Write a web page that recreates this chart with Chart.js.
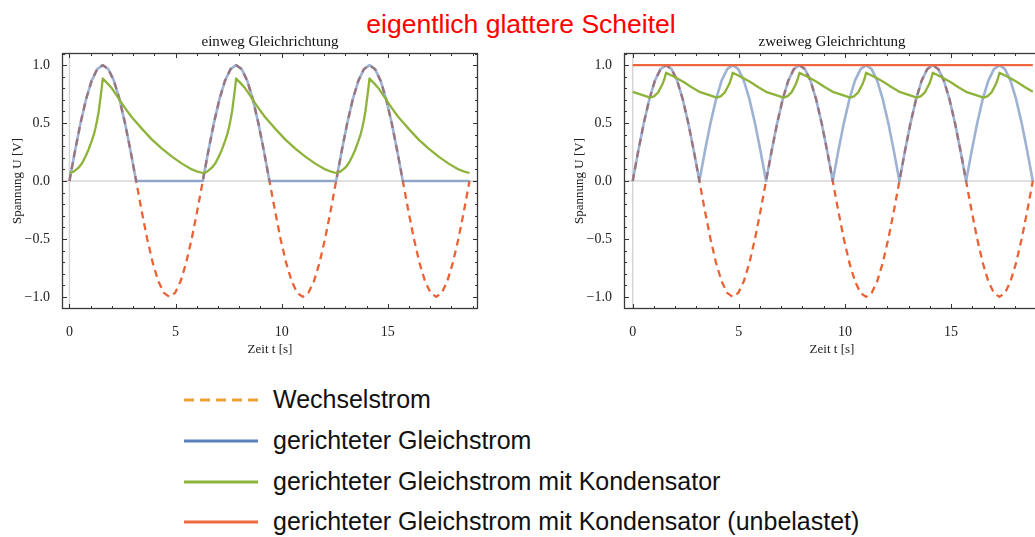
<!DOCTYPE html>
<html><head><meta charset="utf-8">
<script src="https://cdn.jsdelivr.net/npm/chart.js@4/dist/chart.umd.min.js"></script>
<style>
html,body{margin:0;padding:0;width:1035px;height:537px;overflow:hidden;background:#fff;}
#mainTitle{position:absolute;left:0;top:11px;width:1042px;text-align:center;font-family:'Liberation Sans',Arial,sans-serif;font-size:26.5px;line-height:26px;color:#ff0000;white-space:nowrap;}
.box{position:absolute;top:30px;width:490px;height:340px;}
#legend{position:absolute;left:0;top:0;}
.lrow{position:absolute;left:184px;height:41px;}
.lrow svg{position:absolute;left:0;}
.lrow span{position:absolute;left:89px;font-family:'Liberation Sans',Arial,sans-serif;font-size:25px;line-height:25px;color:#111;white-space:nowrap;}
</style></head>
<body>
<div id="mainTitle"></div>
<div class="box" style="left:0px"><canvas id="c1"></canvas></div>
<div class="box" style="left:562px"><canvas id="c2"></canvas></div>
<div id="legend"></div>
<script>
// ---- data ----
const mainTitle = 'eigentlich glattere Scheitel';
const chartTitles = ['einweg Gleichrichtung', 'zweiweg Gleichrichtung'];
const xAxisTitle = 'Zeit t [s]';
const yAxisTitle = 'Spannung U [V]';
const xTickValues = [0, 5, 10, 15];
const xTickLabels = ['0', '5', '10', '15'];
const yTickValues = [-1, -0.5, 0, 0.5, 1];
const yTickLabels = ['\u22121.0', '\u22120.5', '0.0', '0.5', '1.0'];
const legendLabels = ['Wechselstrom', 'gerichteter Gleichstrom', 'gerichteter Gleichstrom mit Kondensator', 'gerichteter Gleichstrom mit Kondensator (unbelastet)'];

const tSine = [0, 0.262, 0.524, 0.785, 1.047, 1.309, 1.571, 1.833, 2.094, 2.356, 2.618, 2.880,
  3.142, 3.403, 3.665, 3.927, 4.189, 4.451, 4.712, 4.974, 5.236, 5.498, 5.760, 6.021,
  6.283, 6.545, 6.807, 7.069, 7.330, 7.592, 7.854, 8.116, 8.378, 8.639, 8.901, 9.163,
  9.425, 9.687, 9.948, 10.210, 10.472, 10.734, 10.996, 11.257, 11.519, 11.781, 12.043, 12.305,
  12.566, 12.828, 13.090, 13.352, 13.614, 13.875, 14.137, 14.399, 14.661, 14.923, 15.184, 15.446,
  15.708, 15.970, 16.232, 16.493, 16.755, 17.017, 17.279, 17.541, 17.802, 18.064, 18.326, 18.588,
  18.850];
const vWechselstrom = [0, 0.259, 0.5, 0.707, 0.866, 0.966, 1, 0.966, 0.866, 0.707, 0.5, 0.259,
  0, -0.259, -0.5, -0.707, -0.866, -0.966, -1, -0.966, -0.866, -0.707, -0.5, -0.259,
  0, 0.259, 0.5, 0.707, 0.866, 0.966, 1, 0.966, 0.866, 0.707, 0.5, 0.259,
  0, -0.259, -0.5, -0.707, -0.866, -0.966, -1, -0.966, -0.866, -0.707, -0.5, -0.259,
  0, 0.259, 0.5, 0.707, 0.866, 0.966, 1, 0.966, 0.866, 0.707, 0.5, 0.259,
  0, -0.259, -0.5, -0.707, -0.866, -0.966, -1, -0.966, -0.866, -0.707, -0.5, -0.259,
  0];
const vEinweg = [0, 0.259, 0.5, 0.707, 0.866, 0.966, 1, 0.966, 0.866, 0.707, 0.5, 0.259,
  0, 0, 0, 0, 0, 0, 0, 0, 0, 0, 0, 0,
  0, 0.259, 0.5, 0.707, 0.866, 0.966, 1, 0.966, 0.866, 0.707, 0.5, 0.259,
  0, 0, 0, 0, 0, 0, 0, 0, 0, 0, 0, 0,
  0, 0.259, 0.5, 0.707, 0.866, 0.966, 1, 0.966, 0.866, 0.707, 0.5, 0.259,
  0, 0, 0, 0, 0, 0, 0, 0, 0, 0, 0, 0,
  0];
const vZweiweg = [0, 0.259, 0.5, 0.707, 0.866, 0.966, 1, 0.966, 0.866, 0.707, 0.5, 0.259,
  0, 0.259, 0.5, 0.707, 0.866, 0.966, 1, 0.966, 0.866, 0.707, 0.5, 0.259,
  0, 0.259, 0.5, 0.707, 0.866, 0.966, 1, 0.966, 0.866, 0.707, 0.5, 0.259,
  0, 0.259, 0.5, 0.707, 0.866, 0.966, 1, 0.966, 0.866, 0.707, 0.5, 0.259,
  0, 0.259, 0.5, 0.707, 0.866, 0.966, 1, 0.966, 0.866, 0.707, 0.5, 0.259,
  0, 0.259, 0.5, 0.707, 0.866, 0.966, 1, 0.966, 0.866, 0.707, 0.5, 0.259,
  0];

const tKondEinweg = [0, 0.2, 0.43, 0.6, 0.75, 0.9, 1.06, 1.15, 1.23, 1.3, 1.38, 1.45, 1.52, 1.571, 1.78, 2.0, 2.24, 2.47, 2.7, 2.94, 3.18, 3.42, 3.89, 4.36, 4.83, 5.3, 5.77, 6.05,
  6.283, 6.483, 6.713, 6.883, 7.033, 7.183, 7.343, 7.433, 7.513, 7.583, 7.663, 7.733, 7.803, 7.854, 8.063, 8.283, 8.523, 8.753, 8.983, 9.223, 9.463, 9.703, 10.173, 10.643, 11.113, 11.583, 12.053, 12.333,
  12.566, 12.766, 12.996, 13.166, 13.316, 13.466, 13.626, 13.716, 13.796, 13.866, 13.946, 14.016, 14.086, 14.137, 14.346, 14.566, 14.806, 15.036, 15.266, 15.506, 15.746, 15.986, 16.456, 16.926, 17.396, 17.866, 18.336, 18.616,
  18.850];
const vKondEinweg = [0.069, 0.08, 0.115, 0.155, 0.21, 0.27, 0.35, 0.40, 0.46, 0.52, 0.60, 0.70, 0.80, 0.885, 0.845, 0.80, 0.735, 0.67, 0.61, 0.55, 0.50, 0.45, 0.357, 0.28, 0.21, 0.15, 0.10, 0.08,
  0.069, 0.08, 0.115, 0.155, 0.21, 0.27, 0.35, 0.40, 0.46, 0.52, 0.60, 0.70, 0.80, 0.885, 0.845, 0.80, 0.735, 0.67, 0.61, 0.55, 0.50, 0.45, 0.357, 0.28, 0.21, 0.15, 0.10, 0.08,
  0.069, 0.08, 0.115, 0.155, 0.21, 0.27, 0.35, 0.40, 0.46, 0.52, 0.60, 0.70, 0.80, 0.885, 0.845, 0.80, 0.735, 0.67, 0.61, 0.55, 0.50, 0.45, 0.357, 0.28, 0.21, 0.15, 0.10, 0.08,
  0.069];

const tKondZweiweg = [0, 0.4, 0.82, 1.0, 1.2, 1.4, 1.5, 1.571, 2.0, 2.4, 2.78,
  3.142, 3.542, 3.962, 4.142, 4.342, 4.542, 4.642, 4.712, 5.142, 5.542, 5.922,
  6.283, 6.683, 7.103, 7.283, 7.483, 7.683, 7.783, 7.854, 8.283, 8.683, 9.063,
  9.425, 9.825, 10.245, 10.425, 10.625, 10.825, 10.925, 10.996, 11.425, 11.825, 12.205,
  12.566, 12.966, 13.386, 13.566, 13.766, 13.966, 14.066, 14.137, 14.566, 14.966, 15.346,
  15.708, 16.108, 16.528, 16.708, 16.908, 17.108, 17.208, 17.279, 17.708, 18.108, 18.488,
  18.850];
const vKondZweiweg = [0.77, 0.745, 0.72, 0.73, 0.765, 0.835, 0.885, 0.935, 0.895, 0.855, 0.81,
  0.77, 0.745, 0.72, 0.73, 0.765, 0.835, 0.885, 0.935, 0.895, 0.855, 0.81,
  0.77, 0.745, 0.72, 0.73, 0.765, 0.835, 0.885, 0.935, 0.895, 0.855, 0.81,
  0.77, 0.745, 0.72, 0.73, 0.765, 0.835, 0.885, 0.935, 0.895, 0.855, 0.81,
  0.77, 0.745, 0.72, 0.73, 0.765, 0.835, 0.885, 0.935, 0.895, 0.855, 0.81,
  0.77, 0.745, 0.72, 0.73, 0.765, 0.835, 0.885, 0.935, 0.895, 0.855, 0.81,
  0.77];

const tUnbelastet = [0, 18.850];
const vUnbelastet = [1, 1];

// ---- styling ----
const COL_WECHSEL = '#EB6235';
const COL_GLEICH = 'rgba(94,129,181,0.6)';
const COL_KOND = '#8DB33A';
const COL_UNBEL = '#EE6640';
const LEG_COLORS = ['#E9A336', '#5B80BC', '#8DB33A', '#EE6A3F'];
const SERIF = "'Liberation Serif','Times New Roman',serif";

function pts(ts, vs) { return ts.map((t, i) => ({x: t, y: vs[i]})); }

document.getElementById('mainTitle').textContent = mainTitle;

// legend (HTML)
const legendEl = document.getElementById('legend');
legendLabels.forEach((lab, i) => {
  const row = document.createElement('div');
  row.className = 'lrow';
  row.style.top = (379 + i * 40.8) + 'px';
  const dash = i === 0 ? ' stroke-dasharray="10 6"' : '';
  row.innerHTML = '<svg width="74" height="8" style="top:17px"><line x1="0" y1="4" x2="74" y2="4" stroke="' + LEG_COLORS[i] + '" stroke-width="3"' + dash + '/></svg>';
  const sp = document.createElement('span');
  sp.style.top = '8px';
  sp.textContent = lab;
  row.appendChild(sp);
  legendEl.appendChild(row);
});

const framePlugin = {
  id: 'framePlugin',
  beforeDatasetsDraw(chart) {
    const {ctx, chartArea: a, scales: {x, y}} = chart;
    ctx.save();
    ctx.beginPath();
    ctx.rect(a.left, a.top, a.width, a.height);
    ctx.clip();
    ctx.strokeStyle = '#d6d6d6';
    ctx.lineWidth = 1.5;
    const x0 = x.getPixelForValue(0), y0 = y.getPixelForValue(0);
    ctx.beginPath();
    ctx.moveTo(x0, a.top); ctx.lineTo(x0, a.bottom);
    ctx.moveTo(a.left, y0); ctx.lineTo(a.right, y0);
    ctx.stroke();
    ctx.restore();
  },
  afterDatasetsDraw(chart) {
    const {ctx, chartArea: a, scales: {x, y}} = chart;
    ctx.save();
    ctx.strokeStyle = '#333';
    ctx.lineWidth = 1;
    ctx.beginPath();
    for (let v = Math.ceil(x.min); v <= x.max; v++) {
      const px = Math.round(x.getPixelForValue(v)) + 0.5;
      const len = v % 5 === 0 ? 5 : 3;
      ctx.moveTo(px, a.bottom); ctx.lineTo(px, a.bottom - len);
      ctx.moveTo(px, a.top); ctx.lineTo(px, a.top + len);
    }
    for (let k = -11; k <= 11; k++) {
      const v = k / 10;
      if (v < y.min || v > y.max) continue;
      const py = Math.round(y.getPixelForValue(v)) + 0.5;
      const len = k % 5 === 0 ? 5 : 3;
      ctx.moveTo(a.left, py); ctx.lineTo(a.left + len, py);
      ctx.moveTo(a.right, py); ctx.lineTo(a.right - len, py);
    }
    ctx.stroke();
    ctx.lineWidth = 1.3;
    ctx.strokeStyle = '#3a3a3a';
    ctx.strokeRect(Math.round(a.left) + 0.5, Math.round(a.top) + 0.5, Math.round(a.width) - 1, Math.round(a.height) - 1);
    ctx.restore();
  }
};

function lineDs(data, color, width, dash) {
  return {data, borderColor: color, borderWidth: width, borderDash: dash || [], pointRadius: 0, tension: 0, fill: false, borderCapStyle: 'butt', borderJoinStyle: 'round'};
}

function makeChart(id, title, datasets, xmin) {
  return new Chart(document.getElementById(id), {
    type: 'line',
    data: {datasets},
    plugins: [framePlugin],
    options: {
      responsive: true, maintainAspectRatio: false, animation: false, devicePixelRatio: 1,
      layout: {padding: {left: 0, right: 12, top: 0, bottom: 0}},
      plugins: {
        legend: {display: false}, tooltip: {enabled: false},
        title: {display: true, text: title, fullSize: false, color: '#111', font: {family: SERIF, size: 15, weight: 'normal'}, padding: {top: 3, bottom: 2}}
      },
      scales: {
        x: {
          type: 'linear', min: xmin, max: xmin + 19.6,
          afterBuildTicks: s => { s.ticks = xTickValues.map(v => ({value: v})); },
          ticks: {callback: v => xTickLabels[xTickValues.indexOf(v)], color: '#222', font: {family: SERIF, size: 14}, padding: 7, maxRotation: 0, autoSkip: false},
          grid: {display: false}, border: {display: false},
          title: {display: true, text: xAxisTitle, color: '#222', font: {family: SERIF, size: 13}, padding: {top: 0, bottom: 13}},
          afterFit: s => { s.height = 61; }
        },
        y: {
          type: 'linear', min: -1.105, max: 1.105,
          afterBuildTicks: s => { s.ticks = yTickValues.map(v => ({value: v})); },
          ticks: {callback: v => yTickLabels[yTickValues.indexOf(v)], color: '#222', font: {family: SERIF, size: 14}, padding: 4, autoSkip: false},
          grid: {display: false}, border: {display: false},
          title: {display: true, text: yAxisTitle, color: '#222', font: {family: SERIF, size: 13}, padding: {top: 10, bottom: 0}},
          afterFit: s => { s.width = 62; }
        }
      }
    }
  });
}

makeChart('c1', chartTitles[0], [
  lineDs(pts(tKondEinweg, vKondEinweg), COL_KOND, 2.3),
  lineDs(pts(tSine, vEinweg), COL_GLEICH, 2.6),
  lineDs(pts(tSine, vWechselstrom), COL_WECHSEL, 2.3, [7, 5])
], -0.35);

makeChart('c2', chartTitles[1], [
  lineDs(pts(tUnbelastet, vUnbelastet), COL_UNBEL, 2.3),
  lineDs(pts(tKondZweiweg, vKondZweiweg), COL_KOND, 2.3),
  lineDs(pts(tSine, vZweiweg), COL_GLEICH, 2.6),
  lineDs(pts(tSine, vWechselstrom), COL_WECHSEL, 2.3, [7, 5])
], -0.41);
</script>
</body></html>
